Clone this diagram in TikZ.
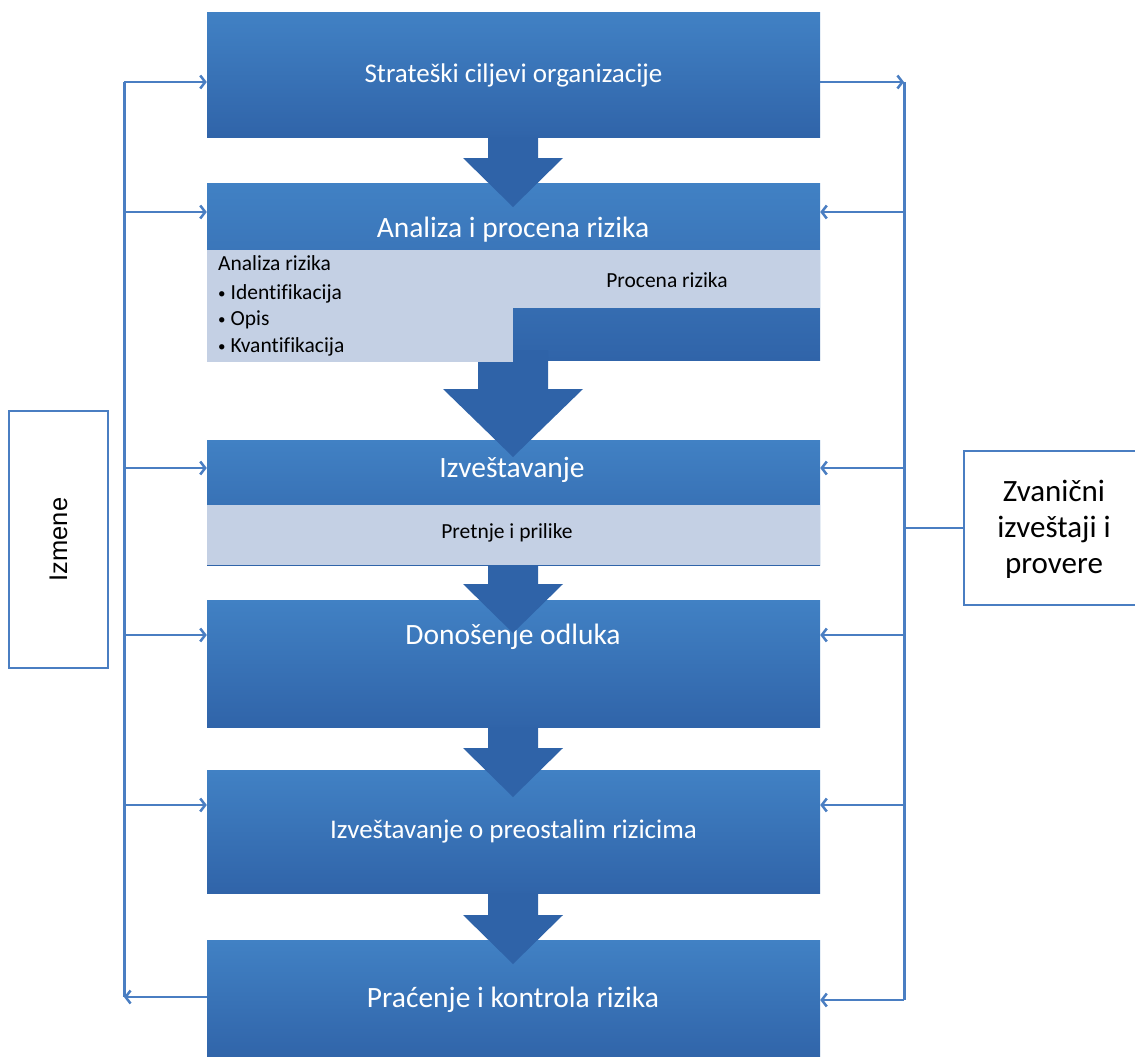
\documentclass[tikz,border=0pt]{standalone}
\usepackage{fontspec}
\setmainfont{Carlito}[Ligatures=NoCommon]
\newfontfamily\sidefont{Liberation Sans}
\usetikzlibrary{arrows.meta,calc}
\definecolor{boxtop}{HTML}{4181C4}
\definecolor{boxbot}{HTML}{3064A9}
\definecolor{lightfill}{HTML}{C4D0E4}
\definecolor{linkblue}{HTML}{4A7EC2}
\definecolor{arrowblue}{HTML}{2F63A8}
\newcommand{\dotitem}{{\fontsize{15}{15}\selectfont\raisebox{1.5pt}{\textbullet}}\hspace{5pt}}
\tikzset{
  stage/.style={minimum width=613pt, inner sep=0pt, top color=boxtop,
    bottom color=boxbot, text=white, font=\fontsize{27}{31}\selectfont},
  stagetitle/.style={text=white, inner sep=0pt, font=\fontsize{29.5}{33}\selectfont},
  subbox/.style={fill=lightfill, inner sep=0pt, anchor=north west},
  subtext/.style={inner sep=0pt, font=\fontsize{21.5}{25}\selectfont},
  link/.style={draw=linkblue, line width=2.5pt,
    -{Straight Barb[length=5pt,width=13pt,line width=2.5pt]}},
  rail/.style={draw=linkblue, line width=3pt},
  sidebox/.style={draw=linkblue, line width=1.8pt, fill=white, inner sep=0pt},
  flow/.style={fill=arrowblue},
}
\begin{document}
\begin{tikzpicture}[x=1pt,y=-1pt]
  \useasboundingbox (0,0) rectangle (1135,1057);
  % stages
  \node[stage, minimum height=124pt] (s1) at (513.5,75) {Strateški ciljevi organizacije};
  \node[stage, minimum height=177pt] (s2) at (513.5,271.5) {};
  \node[stage, minimum height=125pt] (s3) at (513.5,502.5) {};
  \node[stage, minimum height=127pt] (s4) at (513.5,663.5) {};
  \node[stage, minimum height=123pt] (s5) at (513.5,831.5) {Izveštavanje o preostalim rizicima};
  \node[stage, minimum height=120pt] (s6) at (513.5,1000) {};
  \node[stagetitle] (t2) at (513,230) {Analiza i procena rizika};
  \node[stagetitle] (t3) at (512,470) {Izveštavanje};
  \node[stagetitle] (t4) at (513,637) {Donošenje odluka};
  \node[stagetitle] (t6) at (513,1000) {Praćenje i kontrola rizika};
  % flow arrows
  \foreach \top/\base/\apex in {137/158/207, 565/584/633, 727/748/797, 893/915/964}
    \fill[flow] (488,\top) -- (538,\top) -- (538,\base) -- (563,\base)
      -- (513,\apex) -- (463,\base) -- (488,\base) -- cycle;
  \fill[flow] (478,350) -- (548,350) -- (548,389) -- (583,389)
    -- (513,457) -- (443,389) -- (478,389) -- cycle;
  % sub boxes
  \node[subbox, minimum width=306pt, minimum height=112pt] (ar) at (207,250) {};
  \node[subbox, minimum width=307pt, minimum height=58pt] (pr) at (513,250) {};
  \node[subbox, minimum width=613pt, minimum height=60pt] (pp) at (207,505) {};
  \node[subtext, anchor=west] (ar0) at (218,263) {Analiza rizika};
  \node[subtext, anchor=west] (ar1) at (218,294) {\dotitem Identifikacija};
  \node[subtext, anchor=west] (ar2) at (218,320) {\dotitem Opis};
  \node[subtext, anchor=west] (ar3) at (218,347) {\dotitem Kvantifikacija};
  \node[subtext] (pr0) at (667,280) {Procena rizika};
  \node[subtext] (pp0) at (507,533) {Pretnje i prilike};
  % side boxes
  \node[sidebox, minimum width=99pt, minimum height=257pt] (izm) at (58.5,539.5) {};
  \node[rotate=90, font=\sidefont\fontsize{25.5}{30}\selectfont] (izmt) at (izm) {Izmene};
  \node[sidebox, minimum width=190pt, minimum height=154pt, anchor=north west] (zv) at (963,450) {};
  \node[align=center, font=\fontsize{31}{36}\selectfont] (zvt) at (1054,529) {Zvanični\\izveštaji i\\provere};
  % left rail
  \coordinate (L1) at (124,82);
  \coordinate (L2) at (124,212);
  \coordinate (L3) at (124,468);
  \coordinate (L4) at (124,635);
  \coordinate (L5) at (124,805);
  \coordinate (L6) at (124,997);
  \draw[rail] (L1) -- (L6);
  \foreach \k/\s in {1/s1,2/s2,3/s3,4/s4,5/s5}
    \draw[link] (L\k) -- (L\k -| \s.west);
  \draw[link] (L6 -| s6.west) -- (L6);
  % right rail
  \coordinate (R1) at (904,82);
  \coordinate (R2) at (904,212);
  \coordinate (R3) at (904,468);
  \coordinate (R4) at (904,635);
  \coordinate (R5) at (904,805);
  \coordinate (R6) at (904,1000);
  \draw[rail] (R1) -- (R6);
  \draw[link] (R1 -| s1.east) -- (R1);
  \foreach \k/\s in {2/s2,3/s3,4/s4,5/s5,6/s6}
    \draw[link] (R\k) -- (R\k -| \s.east);
  \draw[draw=linkblue, line width=2.5pt] (zv.west |- 0,528) -- (904,528);
\end{tikzpicture}
\end{document}
